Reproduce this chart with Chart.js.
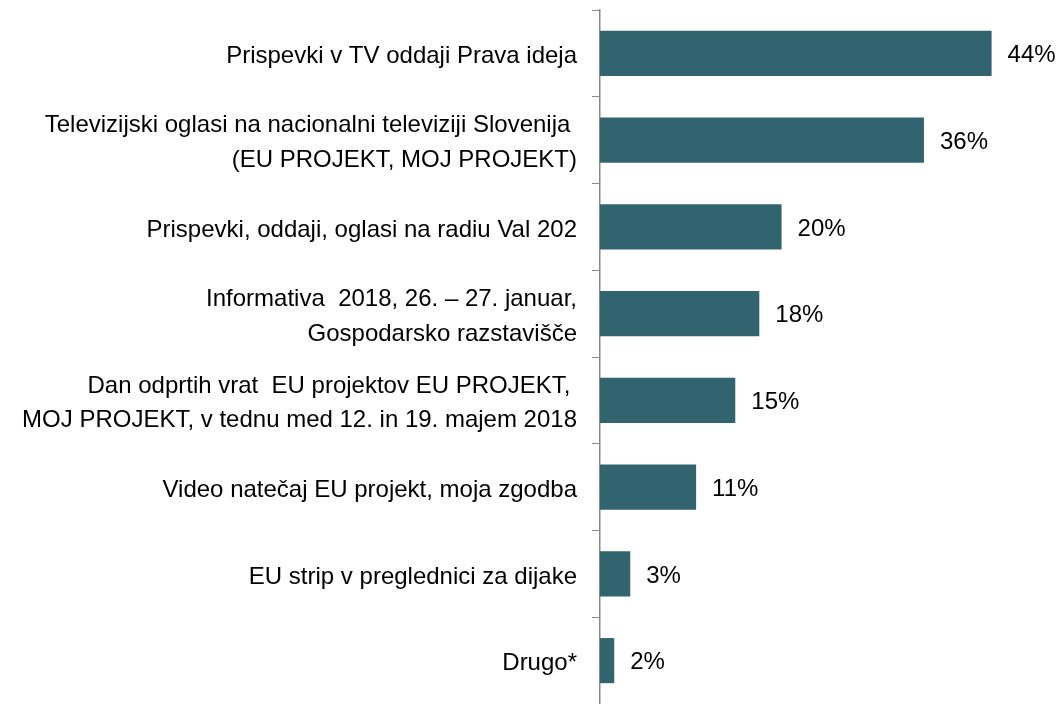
<!DOCTYPE html>
<html>
<head>
<meta charset="utf-8">
<script src="https://cdn.jsdelivr.net/npm/chart.js@4/dist/chart.umd.min.js"></script>
<style>
  html, body { margin: 0; padding: 0; background: #fff; }
  #wrap { width: 1057px; height: 704px; position: relative; }
</style>
</head>
<body>
<div id="wrap"><canvas id="chart"></canvas></div>
<script>
const categories = [
  ['Prispevki v TV oddaji Prava ideja'],
  ['Televizijski oglasi na nacionalni televiziji Slovenija ', '(EU PROJEKT, MOJ PROJEKT)'],
  ['Prispevki, oddaji, oglasi na radiu Val 202'],
  ['Informativa  2018, 26. \u2013 27. januar,', 'Gospodarsko razstavišče'],
  ['Dan odprtih vrat  EU projektov EU PROJEKT, ', 'MOJ PROJEKT, v tednu med 12. in 19. majem 2018'],
  ['Video natečaj EU projekt, moja zgodba'],
  ['EU strip v preglednici za dijake'],
  ['Drugo*']
];
const shares = [44, 36.4, 20.4, 17.9, 15.2, 10.8, 3.4, 1.6];

const barColor = '#31646F';
const axisColor = '#8a8a8a';
const fontFamily = '"Liberation Sans", Arial, sans-serif';

// draws "44%" etc. to the right of each bar
const valueLabels = {
  id: 'valueLabels',
  afterDatasetsDraw(chart) {
    const ctx = chart.ctx;
    const meta = chart.getDatasetMeta(0);
    ctx.save();
    ctx.font = '24px ' + fontFamily;
    ctx.fillStyle = '#000';
    ctx.textAlign = 'left';
    ctx.textBaseline = 'middle';
    meta.data.forEach((bar, i) => {
      ctx.fillText(Math.round(shares[i]) + '%', bar.x + 16, bar.y + 2);
    });
    ctx.restore();
  }
};

new Chart(document.getElementById('chart'), {
  type: 'bar',
  data: {
    labels: categories,
    datasets: [{
      data: shares,
      backgroundColor: barColor,
      borderWidth: 0,
      categoryPercentage: 1,
      barPercentage: 0.52
    }]
  },
  options: {
    indexAxis: 'y',
    responsive: true,
    maintainAspectRatio: false,
    animation: false,
    layout: { padding: { top: 10, right: 12, bottom: 0, left: 0 } },
    plugins: {
      legend: { display: false },
      tooltip: { enabled: false }
    },
    scales: {
      x: {
        display: false,
        min: 0,
        max: 50
      },
      y: {
        afterFit(scale) {
          scale.width = 600;
          scale.paddingTop = 0;
          scale.paddingBottom = 0;
        },
        grid: {
          drawOnChartArea: false,
          drawTicks: true,
          tickLength: 8,
          color: axisColor,
          lineWidth: 1
        },
        border: { display: true, color: axisColor, width: 1.5 },
        ticks: {
          autoSkip: false,
          padding: 15,
          labelOffset: 3,
          color: '#000',
          font: { family: fontFamily, size: 24, lineHeight: 1.45 }
        }
      }
    }
  },
  plugins: [valueLabels]
});
</script>
</body>
</html>
